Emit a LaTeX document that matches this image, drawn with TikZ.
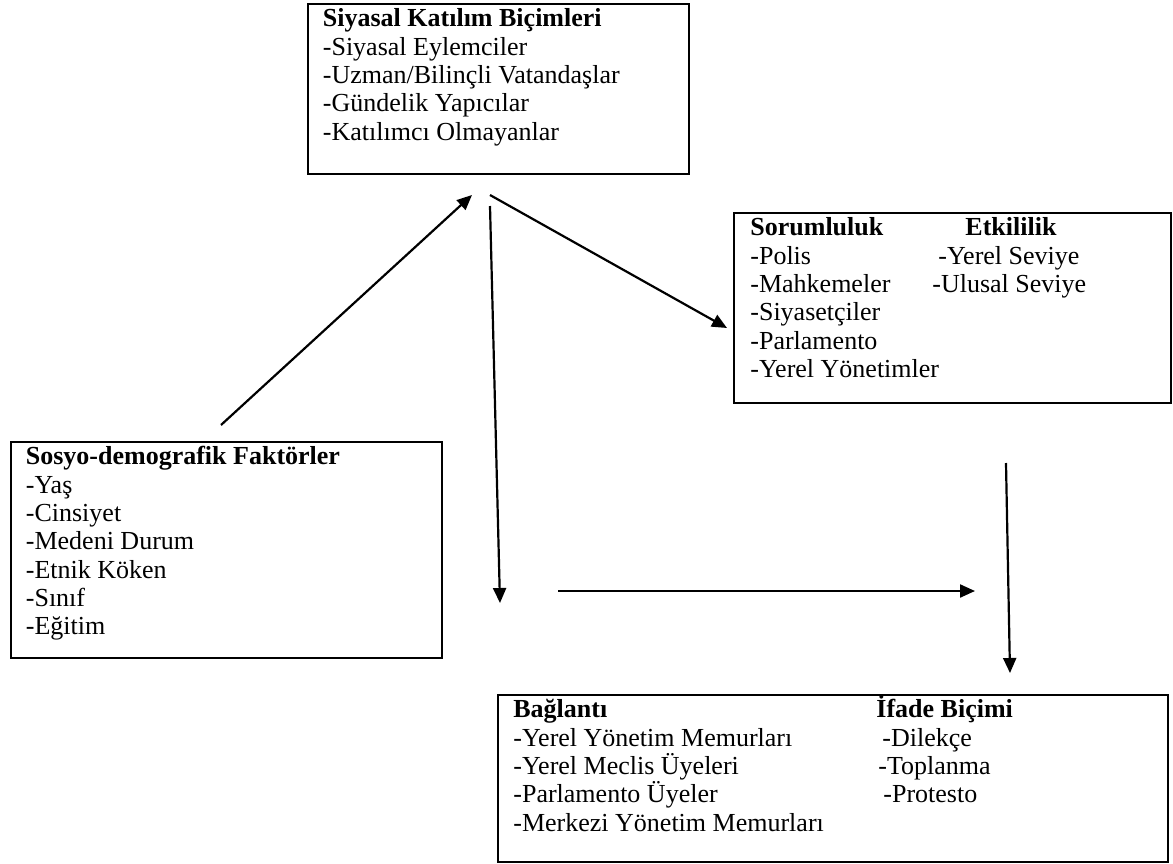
\documentclass[tikz,border=0pt]{standalone}
\usepackage{fontspec}
\setmainfont{Liberation Serif}
\usetikzlibrary{arrows.meta}

\begin{document}
\begin{tikzpicture}[x=0.5pt, y=-0.5pt, >={Triangle[length=7.5pt, width=6.5pt]}]
\tikzstyle{box}=[draw=black, line width=1.2pt, anchor=north west, inner sep=0pt]
\tikzstyle{txt}=[anchor=north west, inner sep=0pt, align=left, font=\fontsize{13}{14.15}\selectfont]
\tikzstyle{link}=[->, line width=1.1pt]

\useasboundingbox (0,0) rectangle (1173,863);

% Boxes
\node at (307,3) [box, minimum width=190.5pt, minimum height=85pt] (katilim) {};
\node at (10,441) [box, minimum width=215.5pt, minimum height=108pt] (sosyo) {};
\node at (733,212) [box, minimum width=218.5pt, minimum height=95pt] (sorum) {};
\node at (497,694) [box, minimum width=335pt, minimum height=83.5pt] (baglanti) {};

% Texts
\node at (322.5,6.7) [txt] (katilim_txt) {\strut\textbf{Siyasal Katılım Biçimleri}\\
-Siyasal Eylemciler\\ -Uzman/Bilinçli Vatandaşlar\\ -Gündelik Yapıcılar\\ -Katılımcı Olmayanlar};
\node at (25.5,444.7) [txt] (sosyo_txt) {\strut\textbf{Sosyo-demografik Faktörler}\\
-Yaş\\ -Cinsiyet\\ -Medeni Durum\\ -Etnik Köken\\ -Sınıf\\ -Eğitim};
\node at (750,215.7) [txt] (sorum_txt) {\strut\textbf{Sorumluluk}\\
-Polis\\ -Mahkemeler\\ -Siyasetçiler\\ -Parlamento\\ -Yerel Yönetimler};
\node at (932,215.7) [txt] (etki_txt) {\strut\hspace*{16.5pt}\textbf{Etkililik}\\
\hspace*{3pt}-Yerel Seviye\\ -Ulusal Seviye};
\node at (513,697.7) [txt] (baglanti_txt) {\strut\textbf{Bağlantı}\\
-Yerel Yönetim Memurları\\ -Yerel Meclis Üyeleri\\ -Parlamento Üyeler\\ -Merkezi Yönetim Memurları};
\node at (876,697.7) [txt] (ifade_txt) {\strut\smash{\textbf{İfade Biçimi}}\\
\hspace*{3pt}-Dilekçe\\ \hspace*{1pt}-Toplanma\\ \hspace*{3.5pt}-Protesto};

% Arrow ends
\coordinate (sosyo_out) at (221,425);
\coordinate (katilim_in) at (472,195);
\coordinate (katilim_out) at (490,195);
\coordinate (sorum_in) at (727,328);
\coordinate (katilim_down) at (490,206);
\coordinate (mid_in) at (500,603);
\coordinate (mid_out) at (558,591);
\coordinate (mid_end) at (975,591);
\coordinate (sorum_out) at (1006,463);
\coordinate (ifade_in) at (1010,673);

% Arrows
\draw [link] (sosyo_out) -- (katilim_in);
\draw [link] (katilim_out) -- (sorum_in);
\draw [link] (katilim_down) -- (mid_in);
\draw [link] (mid_out) -- (mid_end);
\draw [link] (sorum_out) -- (ifade_in);
\end{tikzpicture}
\end{document}
